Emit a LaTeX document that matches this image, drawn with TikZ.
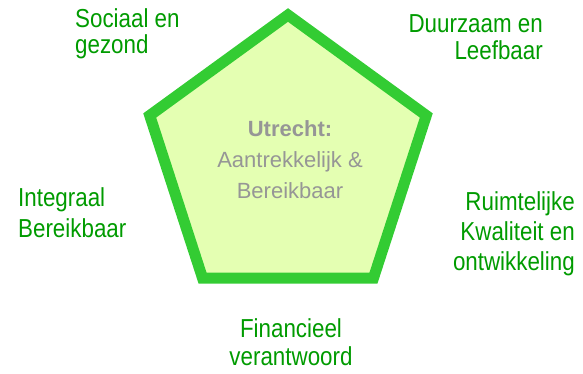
\documentclass[tikz,border=0pt]{standalone}
\usepackage{fontspec}
\setmainfont{Liberation Sans}
\newfontfamily\narrowsans{Liberation Sans}[FakeStretch=0.86]
\definecolor{rimgreen}{RGB}{51,204,51}
\definecolor{fillgreen}{RGB}{228,255,178}
\definecolor{labelgreen}{RGB}{0,155,0}
\definecolor{coregrey}{RGB}{150,150,150}
\tikzset{
  theme/.style={text=labelgreen, inner sep=0pt, font=\narrowsans\fontsize{26}{#1}\selectfont},
  theme/.default=29,
  core/.style={text=coregrey, inner sep=0pt, align=center, font=\fontsize{22}{31}\selectfont},
  pentagon/.style={draw=rimgreen, fill=fillgreen, line width=11pt},
}
\begin{document}
\begin{tikzpicture}[x=1pt,y=-1pt]
\useasboundingbox (0,0) rectangle (583,373);
% pentagon
\coordinate (c) at (288,160.4);
\draw[pentagon] (c) +(-90:145.4) -- +(-18:145.4) -- +(54:145.4) -- +(126:145.4) -- +(198:145.4) -- cycle;
% centre
\node[core, anchor=north] (core) at (290,120) {\textbf{Utrecht:}\\Aantrekkelijk \&\\Bereikbaar};
% themes
\node[theme=26, align=left, anchor=north west] (soc) at (75,8) {Sociaal en\\gezond};
\node[theme=27, align=right, anchor=north east] (duur) at (543,14) {Duurzaam en\\Leefbaar};
\node[theme=31, align=left, anchor=north west] (integ) at (18,187) {Integraal\\Bereikbaar};
\node[theme=30, align=right, anchor=north east] (ruimte) at (575,191) {Ruimtelijke\\Kwaliteit en\\ontwikkeling};
\node[theme=28, align=center, anchor=north] (fin) at (291,318) {Financieel\\verantwoord};
\end{tikzpicture}
\end{document}
